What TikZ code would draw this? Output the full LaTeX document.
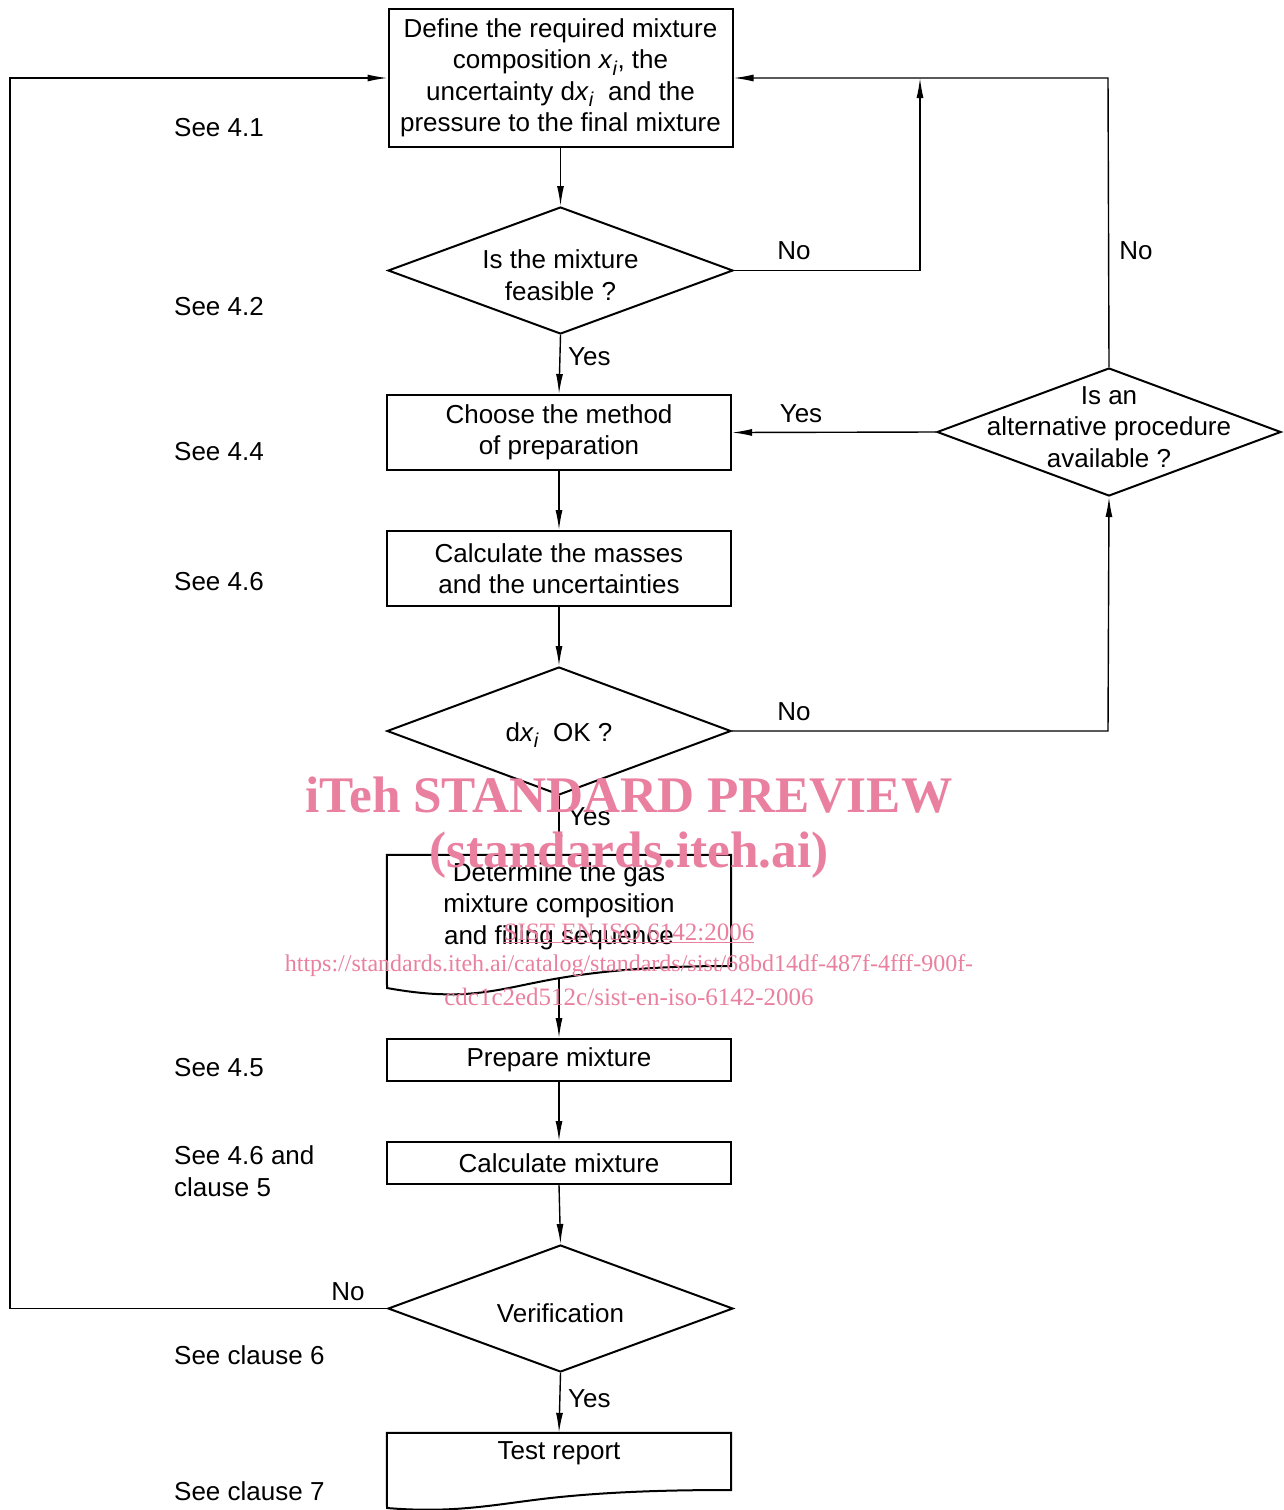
\documentclass[tikz,border=0pt]{standalone}
\usepackage{fontspec}
\setmainfont{Liberation Sans}
\newfontfamily\wmfont{Liberation Serif}
\usetikzlibrary{shapes.geometric,arrows.meta}
\definecolor{wmpink}{RGB}{234,128,160}
\newcommand{\xsub}{\textit{x}\raisebox{-0.45ex}{\fontsize{20}{20}\selectfont\textit{i}}}
\begin{document}
\begin{tikzpicture}[x=1pt,y=-1pt,
  every node/.style={font=\fontsize{26}{31.5}\selectfont},
  boxnode/.style={draw,line width=2pt,rectangle,minimum width=344pt,inner sep=0pt,align=center},
  dia/.style={draw,line width=2pt,diamond,minimum width=345pt,minimum height=127pt,inner sep=0pt},
  txt/.style={align=center,inner sep=0pt},
  lbl/.style={inner sep=0pt},
  seelbl/.style={inner sep=0pt,anchor=west,align=left},
  conn/.style={line width=1.4pt,-{Latex[length=20pt,width=7pt]}},
  line/.style={line width=1.4pt},
  wm/.style={text=wmpink,inner sep=0pt}
]
\useasboundingbox (0,0) rectangle (1284,1510);

% nodes
\node[boxnode,minimum height=138pt] (b1) at (560.5,78) {Define the required mixture\\composition \xsub, the\\uncertainty d\xsub\ \ and the\\pressure to the final mixture};
\node[dia] (d1) at (560.5,270.5) {};
\node[txt] (d1t) at (560.5,275) {Is the mixture\\feasible ?};
\node[boxnode,minimum height=75pt] (b2) at (559,432.5) {Choose the method\\of preparation};
\node[dia,minimum width=344pt,minimum height=128pt] (d2) at (1109,432) {};
\node[txt] (d2t) at (1109,427) {Is an\\alternative procedure\\available ?};
\node[boxnode,minimum height=75pt] (b3) at (559,568.5) {Calculate the masses\\and the uncertainties};
\node[dia,minimum width=344pt,minimum height=128pt] (d3) at (559,731) {};
\node[txt] (d3t) at (559,735) {d\xsub\ \ OK ?};
\node[inner sep=0pt,minimum width=344pt,minimum height=123pt] (doc) at (559,916.5) {};
\draw[line width=2pt] (doc.north west) -- (doc.north east) -- (731,966)
  .. controls (680,966) and (620,968) .. (560,978)
  .. controls (500,988) and (470,1003) .. (387,988) -- cycle;
\node[txt] (doct) at (559,906) {Determine the gas\\mixture composition\\and f{}illing sequence};
\node[boxnode,minimum height=42pt] (b4) at (559,1060) {Prepare mixture};
\node[boxnode,minimum height=42pt] (b5) at (559,1163) {Calculate mixture};
\node[dia] (d4) at (560.5,1308.5) {};
\node[txt] (d4t) at (560.5,1313) {Verification};
\node[inner sep=0pt,minimum width=344pt,minimum height=62pt] (rep) at (559,1464) {};
\draw[line width=2pt] (rep.north west) -- (rep.north east) -- (731,1490)
  .. controls (680,1490) and (620,1491) .. (560,1497)
  .. controls (500,1503) and (460,1514) .. (387,1508) -- cycle;
\node[txt] (rept) at (559,1453) {Test report};

% coordinates for bends
\coordinate (c1) at (920,270.5);
\coordinate (c1t) at (920,78);
\coordinate (c2) at (1108,78);
\coordinate (c3) at (1108,731);
\coordinate (c4) at (10,1308.5);
\coordinate (c5) at (10,78);

% connectors
\draw[conn] (b1.south) -- (d1.north);
\draw[conn] (d1.south) -- (b2.north);
\draw[conn] (b2.south) -- (b3.north);
\draw[conn] (b3.south) -- (d3.north);
\draw[conn] (d3.south) -- (doc.north);
\draw[conn] (doc.south) -- (b4.north);
\draw[conn] (b4.south) -- (b5.north);
\draw[conn] (b5.south) -- (d4.north);
\draw[conn] (d4.south) -- (rep.north);
\draw[line] (d1.east) -- (c1);
\draw[conn] (c1) -- (c1t);
\draw[conn] (d2.north) -- (c2) -- (b1.east);
\draw[conn] (d2.west) -- (b2.east);
\draw[conn] (d3.east) -- (c3) -- (d2.south);
\draw[conn] (d4.west) -- (c4) -- (c5) -- (b1.west);

% branch labels
\node[lbl] (l1) at (794,251) {No};
\node[lbl] (l2) at (1136,251) {No};
\node[lbl,anchor=west] (l3) at (568,357) {Yes};
\node[lbl] (l4) at (801,414) {Yes};
\node[lbl] (l5) at (794,712) {No};
\node[lbl,anchor=west] (l6) at (568,817) {Yes};
\node[lbl] (l7) at (348,1292) {No};
\node[lbl,anchor=west] (l8) at (568,1399) {Yes};

% see labels
\node[seelbl] (s1) at (174,128) {See 4.1};
\node[seelbl] (s2) at (174,307) {See 4.2};
\node[seelbl] (s3) at (174,452) {See 4.4};
\node[seelbl] (s4) at (174,582) {See 4.6};
\node[seelbl] (s5) at (174,1068) {See 4.5};
\node[seelbl] (s6) at (174,1171) {See 4.6 and\\clause 5};
\node[seelbl] (s7) at (174,1355) {See clause 6};
\node[seelbl] (s8) at (174,1491) {See clause 7};

% watermark
\node[wm,font=\wmfont\bfseries\fontsize{51.3}{51}\selectfont] (w1) at (629,795) {iTeh STANDARD PREVIEW};
\node[wm,font=\wmfont\bfseries\fontsize{51.3}{51}\selectfont] (w2) at (629,855) {(standards.iteh.ai)};
\node[wm,font=\wmfont\fontsize{25}{25}\selectfont] (w3) at (629,933) {\underline{SIST EN ISO 6142:2006}};
\node[wm,font=\wmfont\fontsize{24}{25}\selectfont] (w4) at (629,966) {https://standards.iteh.ai/catalog/standards/sist/68bd14df-487f-4fff-900f-};
\node[wm,font=\wmfont\fontsize{25}{25}\selectfont] (w5) at (629,997) {cdc1c2ed512c/sist-en-iso-6142-2006};
\end{tikzpicture}
\end{document}
